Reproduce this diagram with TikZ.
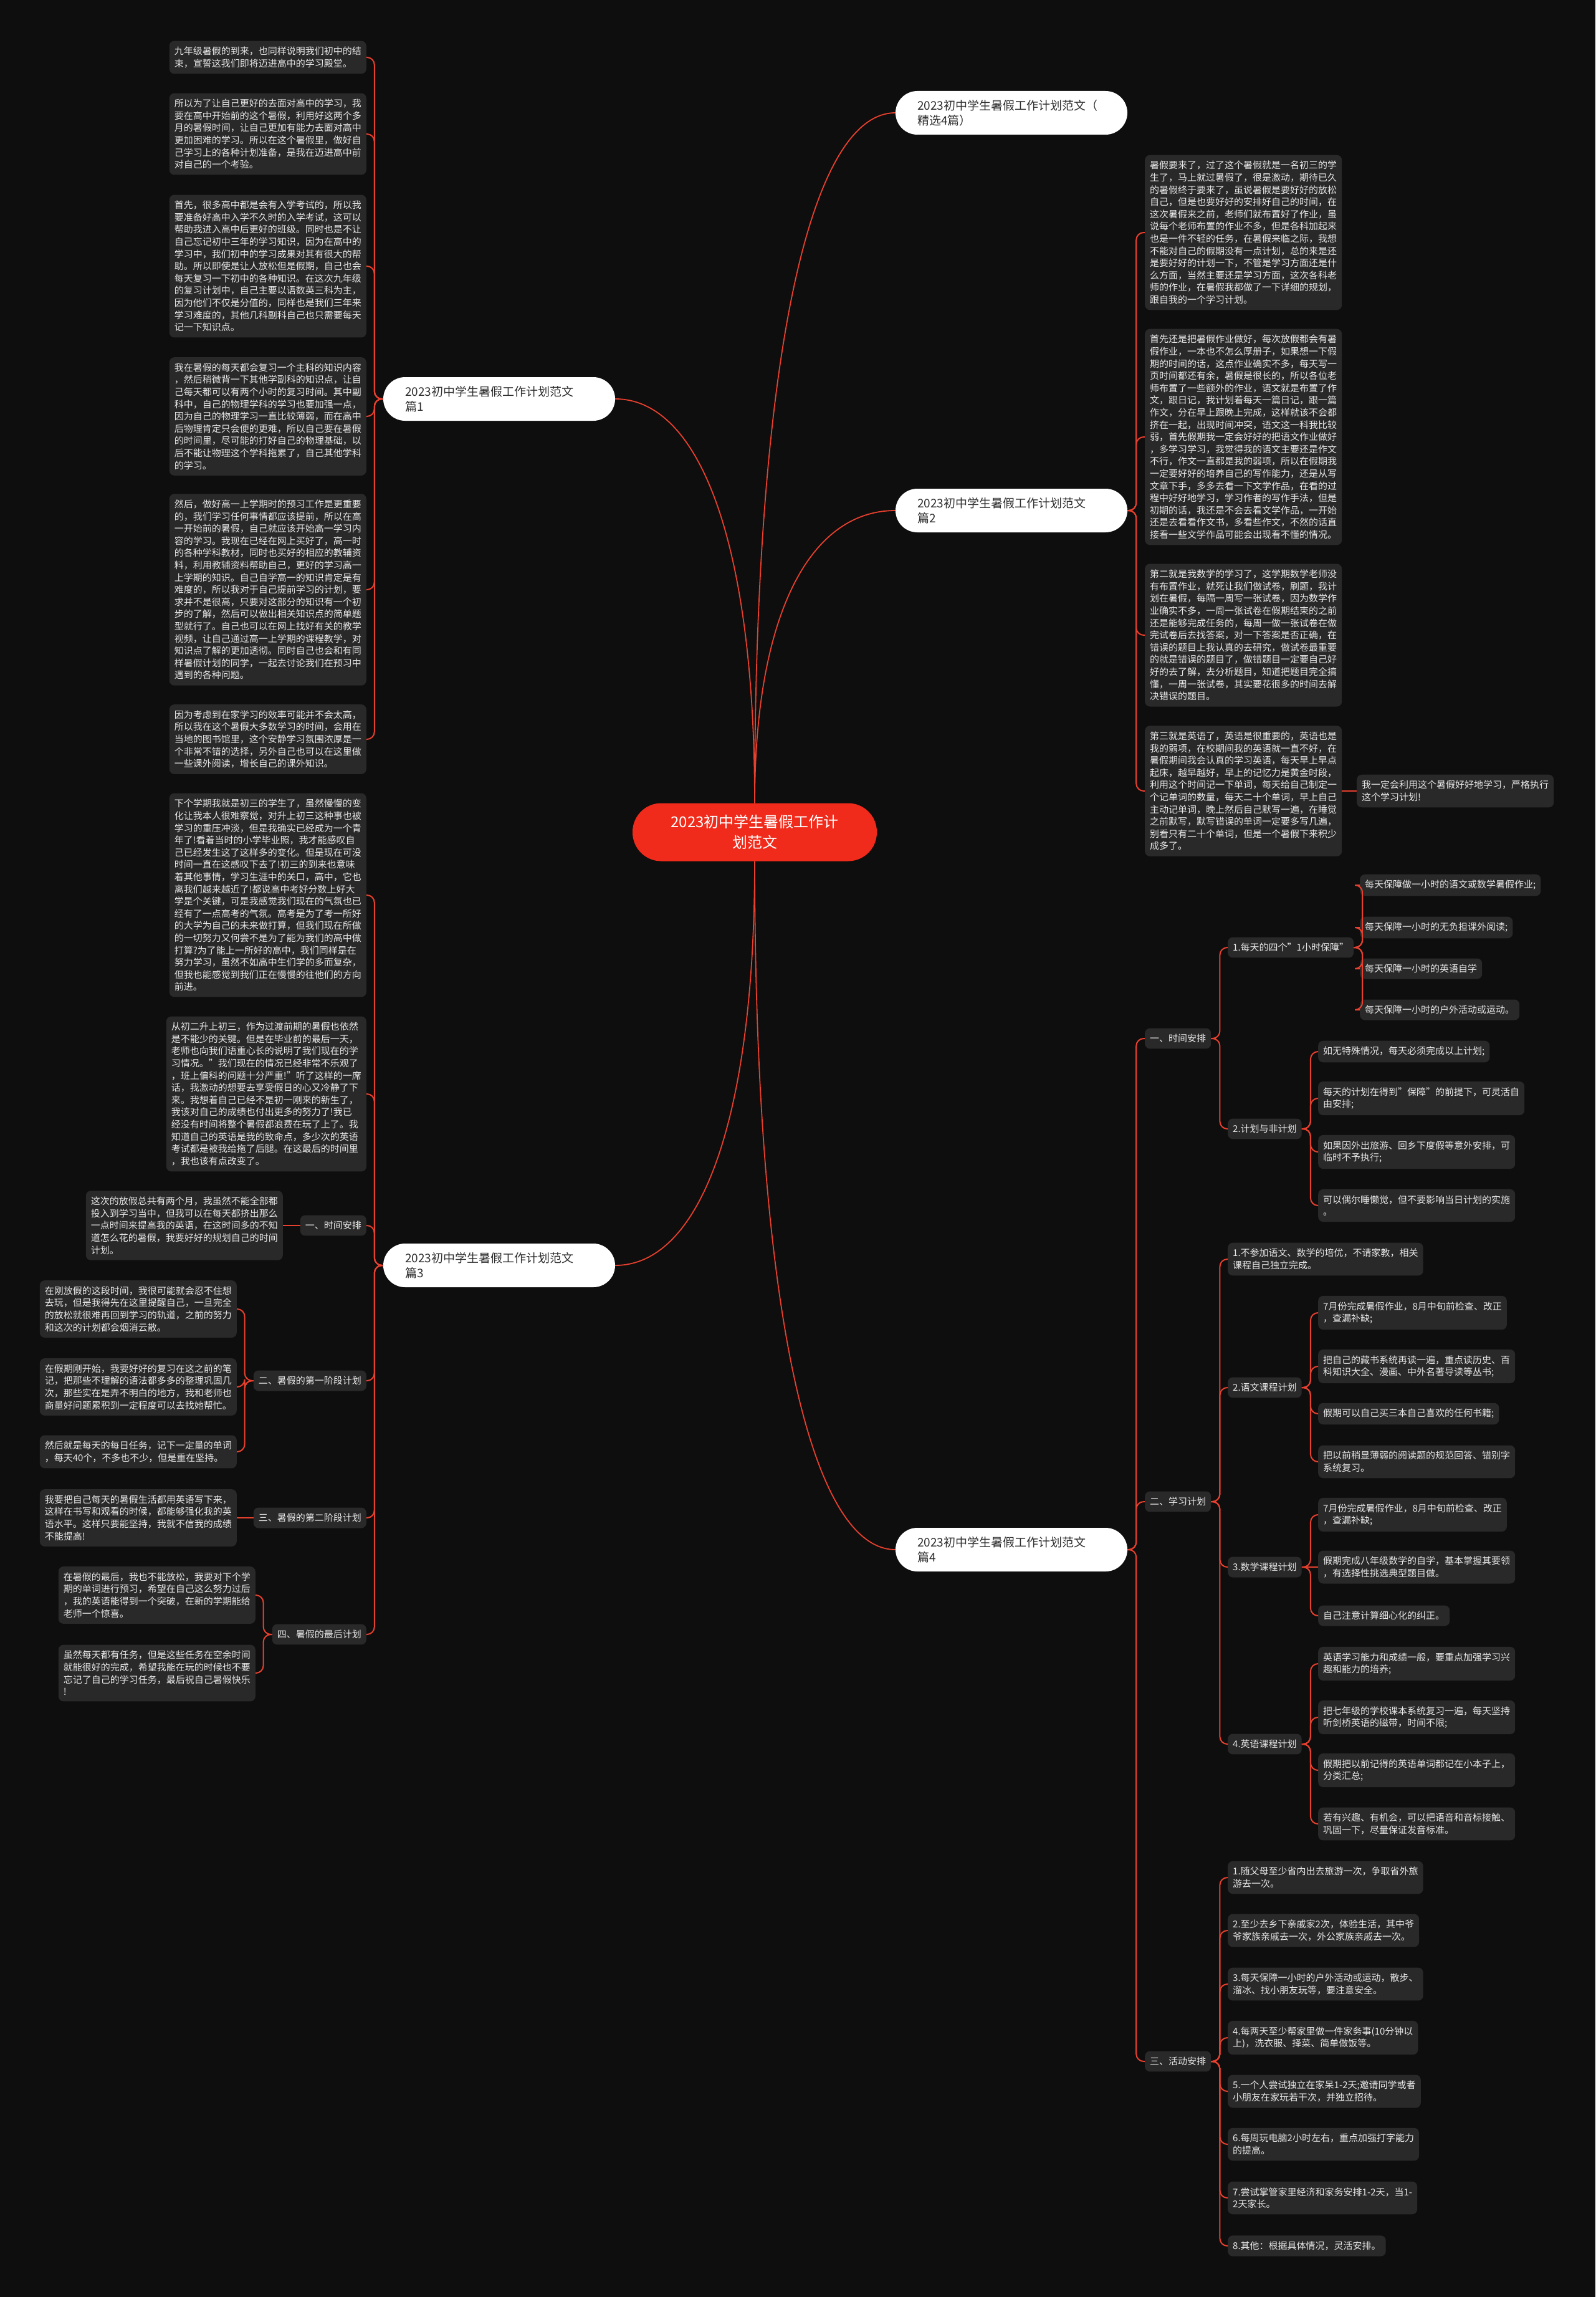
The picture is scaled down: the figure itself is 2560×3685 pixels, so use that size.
\documentclass[tikz,border=0pt]{standalone}
\usepackage{xcolor}
\definecolor{BgDark}{HTML}{0E0E0E}
\definecolor{BoxGrey}{HTML}{292929}
\definecolor{TextLight}{HTML}{E8E8E8}
\definecolor{TopicText}{HTML}{2E2E2E}
\definecolor{LinkRed}{HTML}{E8402E}
\definecolor{RootRed}{HTML}{F02B1B}
\usepackage{fontspec}
\setmainfont{Noto Sans CJK SC}
\usepackage{tikz}
\tikzstyle{root} = [rectangle, fill=RootRed, text=white, rounded corners=46pt, minimum width=392pt, minimum height=93pt, align=center, font=\fontsize{24}{33}\selectfont]
\tikzstyle{topic} = [rectangle, fill=white, text=TopicText, rounded corners=35pt, minimum height=70pt, text width=302pt, inner xsep=35pt, align=left, font=\fontsize{19}{24}\selectfont]
\tikzstyle{leaf} = [rectangle, fill=BoxGrey, text=TextLight, rounded corners=8pt, inner xsep=8pt, inner ysep=9.5pt, align=left, font=\fontsize{15}{19.6}\selectfont]
\tikzstyle{link} = [draw=LinkRed, line width=2pt, rounded corners=12pt]
\tikzstyle{curve} = [draw=LinkRed, line width=1.8pt]

\begin{document}
\begin{tikzpicture}[x=1pt, y=-1pt]
    \fill[BgDark] (0,0) rectangle (2560,3685);

    % Root and topics
    \node [root] (root) at (1211,1335) {2023初中学生暑假工作计\\划范文};
    \node [topic] (p0) at (1623,181) {2023初中学生暑假工作计划范文（\\精选4篇）};
    \node [topic] (p1) at (801,640) {2023初中学生暑假工作计划范文\\篇1};
    \node [topic] (p2) at (1623,819) {2023初中学生暑假工作计划范文\\篇2};
    \node [topic] (p3) at (801,2030) {2023初中学生暑假工作计划范文\\篇3};
    \node [topic] (p4) at (1623,2486) {2023初中学生暑假工作计划范文\\篇4};

    % Topic 1 texts
    \node [leaf, anchor=east] (a1) at (588,92) {九年级暑假的到来，也同样说明我们初中的结\\束，宣誓这我们即将迈进高中的学习殿堂。};
    \node [leaf, anchor=east] (a2) at (588,215) {所以为了让自己更好的去面对高中的学习，我\\要在高中开始前的这个暑假，利用好这两个多\\月的暑假时间，让自己更加有能力去面对高中\\更加困难的学习。所以在这个暑假里，做好自\\己学习上的各种计划准备，是我在迈进高中前\\对自己的一个考验。};
    \node [leaf, anchor=east] (a3) at (588,427) {首先，很多高中都是会有入学考试的，所以我\\要准备好高中入学不久时的入学考试，这可以\\帮助我进入高中后更好的班级。同时也是不让\\自己忘记初中三年的学习知识，因为在高中的\\学习中，我们初中的学习成果对其有很大的帮\\助。所以即使是让人放松但是假期，自己也会\\每天复习一下初中的各种知识。在这次九年级\\的复习计划中，自己主要以语数英三科为主，\\因为他们不仅是分值的，同样也是我们三年来\\学习难度的，其他几科副科自己也只需要每天\\记一下知识点。};
    \node [leaf, anchor=east] (a4) at (588,668) {我在暑假的每天都会复习一个主科的知识内容\\，然后稍微背一下其他学副科的知识点，让自\\己每天都可以有两个小时的复习时间。其中副\\科中，自己的物理学科的学习也要加强一点，\\因为自己的物理学习一直比较薄弱，而在高中\\后物理肯定只会便的更难，所以自己要在暑假\\的时间里，尽可能的打好自己的物理基础，以\\后不能让物理这个学科拖累了，自己其他学科\\的学习。};
    \node [leaf, anchor=east] (a5) at (588,946) {然后，做好高一上学期时的预习工作是更重要\\的，我们学习任何事情都应该提前，所以在高\\一开始前的暑假，自己就应该开始高一学习内\\容的学习。我现在已经在网上买好了，高一时\\的各种学科教材，同时也买好的相应的教辅资\\料，利用教辅资料帮助自己，更好的学习高一\\上学期的知识。自己自学高一的知识肯定是有\\难度的，所以我对于自己提前学习的计划，要\\求并不是很高，只要对这部分的知识有一个初\\步的了解，然后可以做出相关知识点的简单题\\型就行了。自己也可以在网上找好有关的教学\\视频，让自己通过高一上学期的课程教学，对\\知识点了解的更加透彻。同时自己也会和有同\\样暑假计划的同学，一起去讨论我们在预习中\\遇到的各种问题。};
    \node [leaf, anchor=east] (a6) at (588,1186) {因为考虑到在家学习的效率可能并不会太高，\\所以我在这个暑假大多数学习的时间，会用在\\当地的图书馆里，这个安静学习氛围浓厚是一\\个非常不错的选择，另外自己也可以在这里做\\一些课外阅读，增长自己的课外知识。};

    % Topic 2 texts
    \node [leaf, anchor=west] (b1) at (1837,373) {暑假要来了，过了这个暑假就是一名初三的学\\生了，马上就过暑假了，很是激动，期待已久\\的暑假终于要来了，虽说暑假是要好好的放松\\自己，但是也要好好的安排好自己的时间，在\\这次暑假来之前，老师们就布置好了作业，虽\\说每个老师布置的作业不多，但是各科加起来\\也是一件不轻的任务，在暑假来临之际，我想\\不能对自己的假期没有一点计划，总的来是还\\是要好好的计划一下，不管是学习方面还是什\\么方面，当然主要还是学习方面，这次各科老\\师的作业，在暑假我都做了一下详细的规划，\\跟自我的一个学习计划。};
    \node [leaf, anchor=west] (b2) at (1837,701) {首先还是把暑假作业做好，每次放假都会有暑\\假作业，一本也不怎么厚册子，如果想一下假\\期的时间的话，这点作业确实不多，每天写一\\页时间都还有余，暑假是很长的，所以各位老\\师布置了一些额外的作业，语文就是布置了作\\文，跟日记，我计划着每天一篇日记，跟一篇\\作文，分在早上跟晚上完成，这样就该不会都\\挤在一起，出现时间冲突，语文这一科我比较\\弱，首先假期我一定会好好的把语文作业做好\\，多学习学习，我觉得我的语文主要还是作文\\不行，作文一直都是我的弱项，所以在假期我\\一定要好好的培养自己的写作能力，还是从写\\文章下手，多多去看一下文学作品，在看的过\\程中好好地学习，学习作者的写作手法，但是\\初期的话，我还是不会去看文学作品，一开始\\还是去看看作文书，多看些作文，不然的话直\\接看一些文学作品可能会出现看不懂的情况。};
    \node [leaf, anchor=west] (b3) at (1837,1019) {第二就是我数学的学习了，这学期数学老师没\\有布置作业，就死让我们做试卷，刷题，我计\\划在暑假，每隔一周写一张试卷，因为数学作\\业确实不多，一周一张试卷在假期结束的之前\\还是能够完成任务的，每周一做一张试卷在做\\完试卷后去找答案，对一下答案是否正确，在\\错误的题目上我认真的去研究，做试卷最重要\\的就是错误的题目了，做错题目一定要自己好\\好的去了解，去分析题目，知道把题目完全搞\\懂，一周一张试卷，其实要花很多的时间去解\\决错误的题目。};
    \node [leaf, anchor=west] (b4) at (1837,1269) {第三就是英语了，英语是很重要的，英语也是\\我的弱项，在校期间我的英语就一直不好，在\\暑假期间我会认真的学习英语，每天早上早点\\起床，越早越好，早上的记忆力是黄金时段，\\利用这个时间记一下单词，每天给自己制定一\\个记单词的数量，每天二十个单词，早上自己\\主动记单词，晚上然后自己默写一遍，在睡觉\\之前默写，默写错误的单词一定要多写几遍，\\别看只有二十个单词，但是一个暑假下来积少\\成多了。};
    \node [leaf, anchor=west] (bn) at (2177,1269) {我一定会利用这个暑假好好地学习，严格执行\\这个学习计划!};

    % Topic 3 texts
    \node [leaf, anchor=east] (c1) at (588,1436) {下个学期我就是初三的学生了，虽然慢慢的变\\化让我本人很难察觉，对升上初三这种事也被\\学习的重压冲淡，但是我确实已经成为一个青\\年了!看着当时的小学毕业照，我才能感叹自\\己已经发生这了这样多的变化。但是现在可没\\时间一直在这感叹下去了!初三的到来也意味\\着其他事情，学习生涯中的关口，高中，它也\\离我们越来越近了!都说高中考好分数上好大\\学是个关键，可是我感觉我们现在的气氛也已\\经有了一点高考的气氛。高考是为了考一所好\\的大学为自己的未来做打算，但我们现在所做\\的一切努力又何尝不是为了能为我们的高中做\\打算?为了能上一所好的高中，我们同样是在\\努力学习，虽然不如高中生们学的多而复杂，\\但我也能感觉到我们正在慢慢的往他们的方向\\前进。};
    \node [leaf, anchor=east] (c2) at (588,1755) {从初二升上初三，作为过渡前期的暑假也依然\\是不能少的关键。但是在毕业前的最后一天，\\老师也向我们语重心长的说明了我们现在的学\\习情况。"我们现在的情况已经非常不乐观了\\，班上偏科的问题十分严重!"听了这样的一席\\话，我激动的想要去享受假日的心又冷静了下\\来。我想着自己已经不是初一刚来的新生了，\\我该对自己的成绩也付出更多的努力了!我已\\经没有时间将整个暑假都浪费在玩了上了。我\\知道自己的英语是我的致命点，多少次的英语\\考试都是被我给拖了后腿。在这最后的时间里\\，我也该有点改变了。};
    \node [leaf, anchor=east] (ct) at (588,1966) {一、时间安排};
    \node [leaf, anchor=east] (ct1) at (454,1966) {这次的放假总共有两个月，我虽然不能全部都\\投入到学习当中，但我可以在每天都挤出那么\\一点时间来提高我的英语，在这时间多的不知\\道怎么花的暑假，我要好好的规划自己的时间\\计划。};
    \node [leaf, anchor=east] (cs) at (588,2215) {二、暑假的第一阶段计划};
    \node [leaf, anchor=east] (cs1) at (380,2100) {在刚放假的这段时间，我很可能就会忍不住想\\去玩，但是我得先在这里提醒自己，一旦完全\\的放松就很难再回到学习的轨道，之前的努力\\和这次的计划都会烟消云散。};
    \node [leaf, anchor=east] (cs2) at (380,2225) {在假期刚开始，我要好好的复习在这之前的笔\\记，把那些不理解的语法都多多的整理巩固几\\次，那些实在是弄不明白的地方，我和老师也\\商量好问题累积到一定程度可以去找她帮忙。};
    \node [leaf, anchor=east] (cs3) at (380,2329) {然后就是每天的每日任务，记下一定量的单词\\，每天40个，不多也不少，但是重在坚持。};
    \node [leaf, anchor=east] (cu) at (588,2435) {三、暑假的第二阶段计划};
    \node [leaf, anchor=east] (cu1) at (380,2435) {我要把自己每天的暑假生活都用英语写下来，\\这样在书写和观看的时候，都能够强化我的英\\语水平。这样只要能坚持，我就不信我的成绩\\不能提高!};
    \node [leaf, anchor=east] (cl) at (588,2622) {四、暑假的最后计划};
    \node [leaf, anchor=east] (cl1) at (410,2559) {在暑假的最后，我也不能放松，我要对下个学\\期的单词进行预习，希望在自己这么努力过后\\，我的英语能得到一个突破，在新的学期能给\\老师一个惊喜。};
    \node [leaf, anchor=east] (cl2) at (410,2684) {虽然每天都有任务，但是这些任务在空余时间\\就能很好的完成，希望我能在玩的时候也不要\\忘记了自己的学习任务，最后祝自己暑假快乐\\!};

    % Topic 4 plan
    \node [leaf, anchor=west] (dt) at (1837,1666) {一、时间安排};
    \node [leaf, anchor=west] (dt1) at (1970,1520) {1.每天的四个"1小时保障"};
    \node [leaf, anchor=west] (dt11) at (2182,1420) {每天保障做一小时的语文或数学暑假作业;};
    \node [leaf, anchor=west] (dt12) at (2182,1488) {每天保障一小时的无负担课外阅读;};
    \node [leaf, anchor=west] (dt13) at (2182,1554) {每天保障一小时的英语自学};
    \node [leaf, anchor=west] (dt14) at (2182,1620) {每天保障一小时的户外活动或运动。};
    \node [leaf, anchor=west] (dt2) at (1970,1811) {2.计划与非计划};
    \node [leaf, anchor=west] (dt21) at (2115,1687) {如无特殊情况，每天必须完成以上计划;};
    \node [leaf, anchor=west] (dt22) at (2115,1762) {每天的计划在得到"保障"的前提下，可灵活自\\由安排;};
    \node [leaf, anchor=west] (dt23) at (2115,1848) {如果因外出旅游、回乡下度假等意外安排，可\\临时不予执行;};
    \node [leaf, anchor=west] (dt24) at (2115,1934) {可以偶尔睡懒觉，但不要影响当日计划的实施\\。};

    \node [leaf, anchor=west] (ds) at (1837,2409) {二、学习计划};
    \node [leaf, anchor=west] (ds1) at (1970,2020) {1.不参加语文、数学的培优，不请家教，相关\\课程自己独立完成。};
    \node [leaf, anchor=west] (ds2) at (1970,2226) {2.语文课程计划};
    \node [leaf, anchor=west] (ds21) at (2115,2106) {7月份完成暑假作业，8月中旬前检查、改正\\，查漏补缺;};
    \node [leaf, anchor=west] (ds22) at (2115,2192) {把自己的藏书系统再读一遍，重点读历史、百\\科知识大全、漫画、中外名著导读等丛书;};
    \node [leaf, anchor=west] (ds23) at (2115,2268) {假期可以自己买三本自己喜欢的任何书籍;};
    \node [leaf, anchor=west] (ds24) at (2115,2345) {把以前稍显薄弱的阅读题的规范回答、错别字\\系统复习。};
    \node [leaf, anchor=west] (ds3) at (1970,2514) {3.数学课程计划};
    \node [leaf, anchor=west] (ds31) at (2115,2430) {7月份完成暑假作业，8月中旬前检查、改正\\，查漏补缺;};
    \node [leaf, anchor=west] (ds32) at (2115,2514) {假期完成八年级数学的自学，基本掌握其要领\\，有选择性挑选典型题目做。};
    \node [leaf, anchor=west] (ds33) at (2115,2592) {自己注意计算细心化的纠正。};
    \node [leaf, anchor=west] (ds4) at (1970,2798) {4.英语课程计划};
    \node [leaf, anchor=west] (ds41) at (2115,2669) {英语学习能力和成绩一般，要重点加强学习兴\\趣和能力的培养;};
    \node [leaf, anchor=west] (ds42) at (2115,2755) {把七年级的学校课本系统复习一遍，每天坚持\\听剑桥英语的磁带，时间不限;};
    \node [leaf, anchor=west] (ds43) at (2115,2840) {假期把以前记得的英语单词都记在小本子上，\\分类汇总;};
    \node [leaf, anchor=west] (ds44) at (2115,2926) {若有兴趣、有机会，可以把语音和音标接触、\\巩固一下，尽量保证发音标准。};

    \node [leaf, anchor=west] (da) at (1837,3307) {三、活动安排};
    \node [leaf, anchor=west] (da1) at (1970,3012) {1.随父母至少省内出去旅游一次，争取省外旅\\游去一次。};
    \node [leaf, anchor=west] (da2) at (1970,3097) {2.至少去乡下亲戚家2次，体验生活，其中爷\\爷家族亲戚去一次，外公家族亲戚去一次。};
    \node [leaf, anchor=west] (da3) at (1970,3183) {3.每天保障一小时的户外活动或运动，散步、\\溜冰、找小朋友玩等，要注意安全。};
    \node [leaf, anchor=west] (da4) at (1970,3269) {4.每两天至少帮家里做一件家务事(10分钟以\\上)，洗衣服、择菜、简单做饭等。};
    \node [leaf, anchor=west] (da5) at (1970,3355) {5.一个人尝试独立在家呆1-2天;邀请同学或者\\小朋友在家玩若干次，并独立招待。};
    \node [leaf, anchor=west] (da6) at (1970,3440) {6.每周玩电脑2小时左右，重点加强打字能力\\的提高。};
    \node [leaf, anchor=west] (da7) at (1970,3526) {7.尝试掌管家里经济和家务安排1-2天，当1-\\2天家长。};
    \node [leaf, anchor=west] (da8) at (1970,3603) {8.其他：根据具体情况，灵活安排。};

    % Root to topics
    \draw [curve] (root.north) .. controls +(0,-720) and +(-136,0) .. (p0.west);
    \draw [curve] (root.north) .. controls +(0,-305) and +(-136,0) .. (p2.west);
    \draw [curve] (root.north) .. controls +(0,-421) and +(134,0) .. (p1.east);
    \draw [curve] (root.south) .. controls +(0,422) and +(134,0) .. (p3.east);
    \draw [curve] (root.south) .. controls +(0,718) and +(-136,0) .. (p4.west);

    % Topic 1
    \draw [link] (p1.west) -- ++(-14,0) |- (a1.east);
    \draw [link] (p1.west) -- ++(-14,0) |- (a2.east);
    \draw [link] (p1.west) -- ++(-14,0) |- (a3.east);
    \draw [link] (p1.west) -- ++(-14,0) |- (a4.east);
    \draw [link] (p1.west) -- ++(-14,0) |- (a5.east);
    \draw [link] (p1.west) -- ++(-14,0) |- (a6.east);

    % Topic 2
    \draw [link] (p2.east) -- ++(14,0) |- (b1.west);
    \draw [link] (p2.east) -- ++(14,0) |- (b2.west);
    \draw [link] (p2.east) -- ++(14,0) |- (b3.west);
    \draw [link] (p2.east) -- ++(14,0) |- (b4.west);
    \draw [link] (b4.east) -- (bn.west);

    % Topic 3
    \draw [link] (p3.west) -- ++(-14,0) |- (c1.east);
    \draw [link] (p3.west) -- ++(-14,0) |- (c2.east);
    \draw [link] (p3.west) -- ++(-14,0) |- (ct.east);
    \draw [link] (p3.west) -- ++(-14,0) |- (cs.east);
    \draw [link] (p3.west) -- ++(-14,0) |- (cu.east);
    \draw [link] (p3.west) -- ++(-14,0) |- (cl.east);
    \draw [link] (ct.west) -- (ct1.east);
    \draw [link] (cs.west) -- ++(-14,0) |- (cs1.east);
    \draw [link] (cs.west) -- ++(-14,0) |- (cs2.east);
    \draw [link] (cs.west) -- ++(-14,0) |- (cs3.east);
    \draw [link] (cu.west) -- (cu1.east);
    \draw [link] (cl.west) -- ++(-14,0) |- (cl1.east);
    \draw [link] (cl.west) -- ++(-14,0) |- (cl2.east);

    % Topic 4
    \draw [link] (p4.east) -- ++(14,0) |- (dt.west);
    \draw [link] (p4.east) -- ++(14,0) |- (ds.west);
    \draw [link] (p4.east) -- ++(14,0) |- (da.west);

    \draw [link] (dt.east) -- ++(14,0) |- (dt1.west);
    \draw [link] (dt.east) -- ++(14,0) |- (dt2.west);
    \draw [link] (dt1.east) -- ++(14,0) |- (dt11.west);
    \draw [link] (dt1.east) -- ++(14,0) |- (dt12.west);
    \draw [link] (dt1.east) -- ++(14,0) |- (dt13.west);
    \draw [link] (dt1.east) -- ++(14,0) |- (dt14.west);
    \draw [link] (dt2.east) -- ++(14,0) |- (dt21.west);
    \draw [link] (dt2.east) -- ++(14,0) |- (dt22.west);
    \draw [link] (dt2.east) -- ++(14,0) |- (dt23.west);
    \draw [link] (dt2.east) -- ++(14,0) |- (dt24.west);

    \draw [link] (ds.east) -- ++(14,0) |- (ds1.west);
    \draw [link] (ds.east) -- ++(14,0) |- (ds2.west);
    \draw [link] (ds.east) -- ++(14,0) |- (ds3.west);
    \draw [link] (ds.east) -- ++(14,0) |- (ds4.west);
    \draw [link] (ds2.east) -- ++(14,0) |- (ds21.west);
    \draw [link] (ds2.east) -- ++(14,0) |- (ds22.west);
    \draw [link] (ds2.east) -- ++(14,0) |- (ds23.west);
    \draw [link] (ds2.east) -- ++(14,0) |- (ds24.west);
    \draw [link] (ds3.east) -- ++(14,0) |- (ds31.west);
    \draw [link] (ds3.east) -- (ds32.west);
    \draw [link] (ds3.east) -- ++(14,0) |- (ds33.west);
    \draw [link] (ds4.east) -- ++(14,0) |- (ds41.west);
    \draw [link] (ds4.east) -- ++(14,0) |- (ds42.west);
    \draw [link] (ds4.east) -- ++(14,0) |- (ds43.west);
    \draw [link] (ds4.east) -- ++(14,0) |- (ds44.west);

    \draw [link] (da.east) -- ++(14,0) |- (da1.west);
    \draw [link] (da.east) -- ++(14,0) |- (da2.west);
    \draw [link] (da.east) -- ++(14,0) |- (da3.west);
    \draw [link] (da.east) -- ++(14,0) |- (da4.west);
    \draw [link] (da.east) -- ++(14,0) |- (da5.west);
    \draw [link] (da.east) -- ++(14,0) |- (da6.west);
    \draw [link] (da.east) -- ++(14,0) |- (da7.west);
    \draw [link] (da.east) -- ++(14,0) |- (da8.west);
\end{tikzpicture}
\end{document}
